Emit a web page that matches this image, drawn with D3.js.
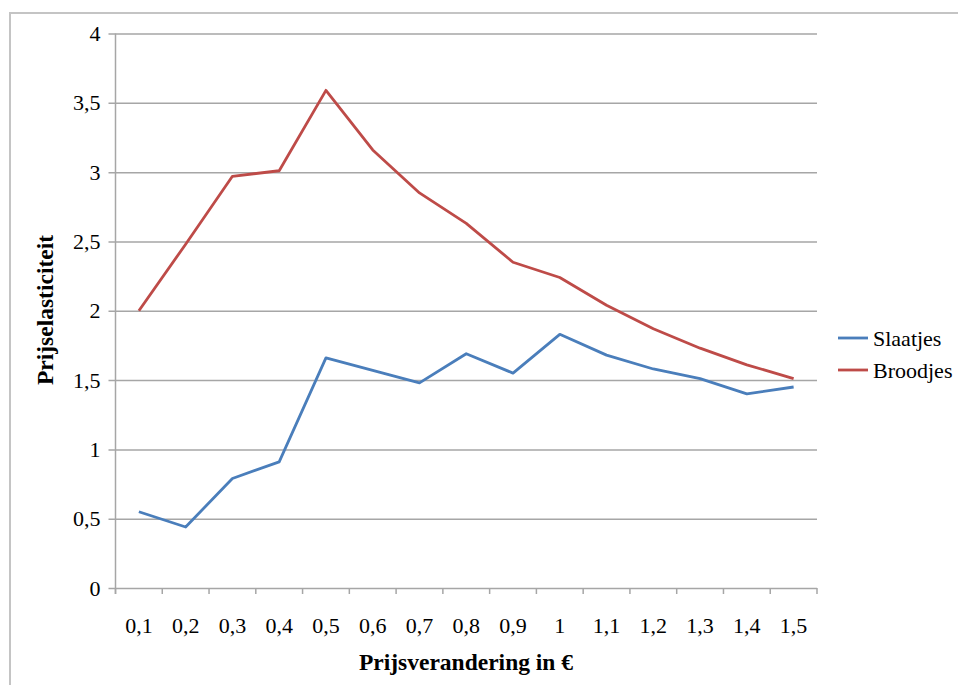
<!DOCTYPE html>
<html>
<head>
<meta charset="utf-8">
<script src="https://cdn.jsdelivr.net/npm/d3@7"></script>
<style>
  body { margin: 0; background: #fff; }
  svg { display: block; }
</style>
</head>
<body>
<svg id="chart" width="958" height="685"></svg>
<script>
// Price change steps (in euro) and the elasticity measured per product
const categories = ["0,1","0,2","0,3","0,4","0,5","0,6","0,7","0,8","0,9","1","1,1","1,2","1,3","1,4","1,5"];
const slaatjes = [0.55, 0.44, 0.79, 0.91, 1.66, 1.57, 1.48, 1.69, 1.55, 1.83, 1.68, 1.58, 1.51, 1.40, 1.45];
const broodjes = [2.00, 2.48, 2.97, 3.01, 3.59, 3.16, 2.85, 2.63, 2.35, 2.24, 2.04, 1.87, 1.73, 1.61, 1.51];
const yTicks = [0, 0.5, 1, 1.5, 2, 2.5, 3, 3.5, 4];
const seriesNames = ["Slaatjes", "Broodjes"];
const seriesColors = ["#4a7ebb", "#be4b48"];

const SERIF = "'Liberation Serif', 'Times New Roman', Times, serif";
const FS = "22px";
const FS_TITLE = "23.5px";

const svg = d3.select("#chart");
const plot = { left: 115.5, right: 817, top: 33.5, bottom: 588 };

// Outer chart frame
svg.append("path")
  .attr("d", `M10,685 V13 H958`)
  .attr("fill", "none").attr("stroke", "#c4c4c4").attr("stroke-width", 2);

const x = d3.scaleBand().domain(categories).range([plot.left, plot.right]);
const y = d3.scaleLinear().domain([0, 4]).range([plot.bottom, plot.top]);

// Horizontal gridlines with small outward ticks on the left
const yAxis = d3.axisLeft(y).tickValues(yTicks)
  .tickSize(-(plot.right - plot.left)).tickPadding(15)
  .tickFormat(d => String(d).replace(".", ","));
const gy = svg.append("g").attr("transform", `translate(${plot.left},0)`).call(yAxis);
gy.attr("font-family", null).attr("font-size", null);
gy.select(".domain").remove();
gy.selectAll(".tick line").attr("stroke", "#a6a6a6").attr("stroke-width", 1.5).attr("x1", -7);
gy.selectAll(".tick text")
  .style("font-family", SERIF).style("font-size", FS).attr("fill", "#000");

// Vertical axis line
svg.append("line")
  .attr("x1", plot.left).attr("x2", plot.left)
  .attr("y1", plot.top).attr("y2", plot.bottom + 6)
  .attr("stroke", "#a6a6a6").attr("stroke-width", 1.5);

// Category axis: ticks sit on band boundaries, labels in band centres
const bounds = categories.map(c => x(c)).concat([plot.right]);
svg.append("g").selectAll("line").data(bounds).join("line")
  .attr("x1", d => d).attr("x2", d => d)
  .attr("y1", plot.bottom).attr("y2", plot.bottom + 6)
  .attr("stroke", "#a6a6a6").attr("stroke-width", 1.5);
svg.append("g").selectAll("text").data(categories).join("text")
  .attr("x", d => x(d) + x.bandwidth() / 2)
  .attr("y", 633)
  .attr("text-anchor", "middle")
  .style("font-family", SERIF).style("font-size", FS)
  .text(d => d);

// Series lines
const line = d3.line()
  .x((d, i) => x(categories[i]) + x.bandwidth() / 2)
  .y(d => y(d));
[slaatjes, broodjes].forEach((vals, k) => {
  svg.append("path")
    .datum(vals)
    .attr("d", line)
    .attr("fill", "none")
    .attr("stroke", seriesColors[k])
    .attr("stroke-width", 2.8)
    .attr("stroke-linejoin", "round");
});

// Axis titles
svg.append("text")
  .attr("x", 466).attr("y", 670)
  .attr("text-anchor", "middle")
  .style("font-family", SERIF).style("font-size", FS_TITLE).style("font-weight", "bold")
  .text("Prijsverandering in €");
svg.append("text")
  .attr("transform", "translate(53,310) rotate(-90)")
  .attr("text-anchor", "middle")
  .style("font-family", SERIF).style("font-size", FS_TITLE).style("font-weight", "bold")
  .text("Prijselasticiteit");

// Legend
const legend = svg.append("g").selectAll("g").data(seriesNames).join("g")
  .attr("transform", (d, i) => `translate(838,${338 + i * 32})`);
legend.append("line")
  .attr("x1", 0).attr("x2", 30)
  .attr("stroke", (d, i) => seriesColors[i]).attr("stroke-width", 2.8);
legend.append("text")
  .attr("x", 35).attr("y", 7.5)
  .style("font-family", SERIF).style("font-size", FS)
  .text(d => d);
</script>
</body>
</html>
